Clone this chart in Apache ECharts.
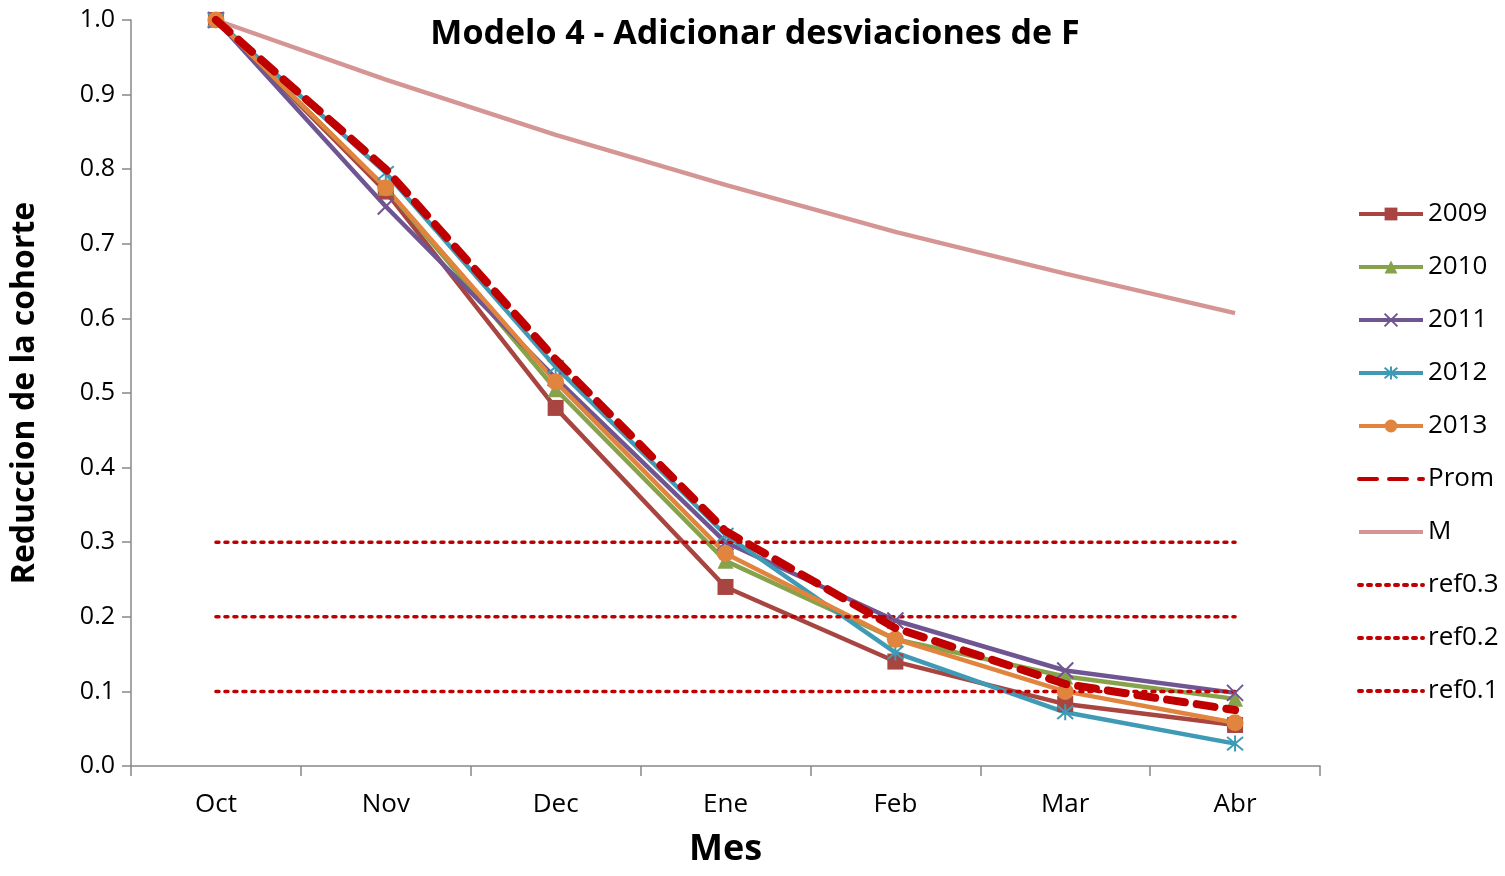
<!DOCTYPE html>
<html>
<head>
<meta charset="utf-8" />
<script src="https://cdn.jsdelivr.net/npm/echarts@6/dist/echarts.min.js"></script>
<style>
  body { margin: 0; padding: 0; background: #fff; }
  #main { width: 1505px; height: 876px; }
</style>
</head>
<body>
<div id="main"></div>
<script>
var months = ["Oct", "Nov", "Dec", "Ene", "Feb", "Mar", "Abr"];
var s2009 = [1, 0.77, 0.48, 0.24, 0.14, 0.083, 0.055];
var s2010 = [1, 0.775, 0.505, 0.275, 0.17, 0.12, 0.09];
var s2011 = [1, 0.75, 0.52, 0.30, 0.195, 0.128, 0.098];
var s2012 = [1, 0.795, 0.535, 0.31, 0.152, 0.072, 0.03];
var s2013 = [1, 0.775, 0.515, 0.285, 0.17, 0.10, 0.058];
var prom = [1, 0.80, 0.545, 0.315, 0.185, 0.11, 0.075];
var mNat = [1, 0.92, 0.846, 0.779, 0.716, 0.66, 0.607];
var ref03 = [0.3, 0.3, 0.3, 0.3, 0.3, 0.3, 0.3];
var ref02 = [0.2, 0.2, 0.2, 0.2, 0.2, 0.2, 0.2];
var ref01 = [0.1, 0.1, 0.1, 0.1, 0.1, 0.1, 0.1];

var chart = echarts.init(document.getElementById("main"));
var font = "Open Sans, Liberation Sans, sans-serif";
var crossX = "path://M0,0L10,10M10,0L0,10";
var star = "path://M0,0L10,10M10,0L0,10M5,-1L5,11";

function line(name, data, color, symbol, size, extra) {
  var s = {
    name: name, type: "line", data: data, symbol: symbol, symbolSize: size,
    lineStyle: { color: color, width: 4.5 }, itemStyle: { color: color },
    animation: false
  };
  return Object.assign(s, extra || {});
}
function ref(name, data) {
  return line(name, data, "#c00000", "none", 0, {
    lineStyle: { color: "#c00000", width: 3.5, type: [3, 6], cap: "round" }
  });
}
// legend entries for series without markers: hide the marker, keep the line
function noMark(name) {
  return { name: name, itemStyle: { color: "rgba(0,0,0,0)", borderWidth: 0, opacity: 0 } };
}

var option = {
  title: {
    text: "Modelo 4 - Adicionar desviaciones de F",
    left: 750, top: 12, textAlign: "center",
    textStyle: { fontFamily: font, fontSize: 34, fontWeight: "bold", color: "#000" }
  },
  legend: {
    orient: "vertical", left: 1352, top: 196, itemGap: 27, itemWidth: 64, itemHeight: 16,
    lineStyle: { width: 4 },
    textStyle: { fontFamily: font, fontSize: 26, color: "#000" },
    data: ["2009", "2010", "2011", "2012", "2013",
      noMark("Prom"), noMark("M"), noMark("ref0.3"), noMark("ref0.2"), noMark("ref0.1")]
  },
  grid: { left: 131, right: 185, top: 20, bottom: 110 },
  xAxis: {
    type: "category", data: months, boundaryGap: true,
    name: "Mes", nameLocation: "middle", nameGap: 66,
    nameTextStyle: { fontFamily: font, fontSize: 36, fontWeight: "bold", color: "#000" },
    axisLine: { lineStyle: { color: "#888", width: 1.5 } },
    axisTick: { show: true, length: 10, lineStyle: { color: "#888", width: 1.5 } },
    axisLabel: { fontFamily: font, fontSize: 26, color: "#000", margin: 26 }
  },
  yAxis: {
    type: "value", min: 0, max: 1, interval: 0.1,
    name: "Reduccion de la cohorte", nameLocation: "middle", nameGap: 90,
    nameTextStyle: { fontFamily: font, fontSize: 32, fontWeight: "bold", color: "#000" },
    axisLine: { show: true, lineStyle: { color: "#888", width: 1.5 } },
    axisTick: { show: true, length: 9, lineStyle: { color: "#888", width: 1.5 } },
    splitLine: { show: false },
    axisLabel: { fontFamily: font, fontSize: 25, color: "#000", margin: 16,
      formatter: function (v) { return v.toFixed(1); } }
  },
  series: [
    line("2009", s2009, "#a84541", "rect", 16),
    line("2010", s2010, "#86a24b", "triangle", 16),
    line("2011", s2011, "#6f5591", crossX, 16, { itemStyle: { color: "#6f5591", borderColor: "#6f5591", borderWidth: 2 } }),
    line("2012", s2012, "#3f9bb5", star, 16, { itemStyle: { color: "#3f9bb5", borderColor: "#3f9bb5", borderWidth: 2 } }),
    line("2013", s2013, "#e0843e", "circle", 17),
    line("Prom", prom, "#c00000", "none", 0, { lineStyle: { color: "#c00000", width: 8, type: [18, 12], cap: "round" }, z: 5 }),
    line("M", mNat, "#d59594", "none", 0),
    ref("ref0.3", ref03),
    ref("ref0.2", ref02),
    ref("ref0.1", ref01)
  ]
};
chart.setOption(option);
</script>
</body>
</html>
